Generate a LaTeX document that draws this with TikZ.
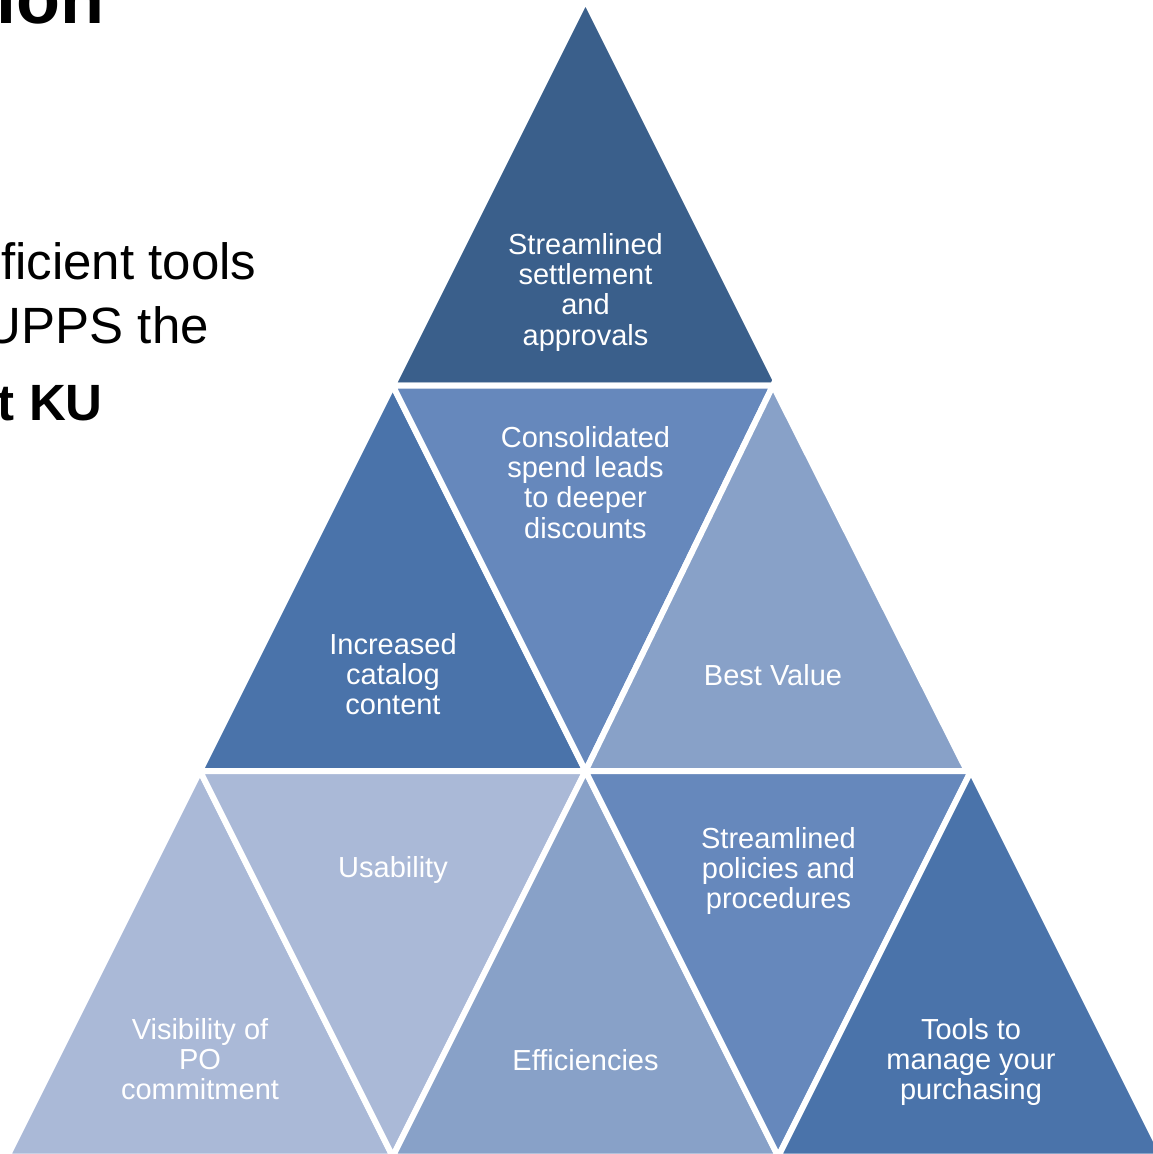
\documentclass[tikz,border=0pt]{standalone}
\usepackage{fontspec}
\setmainfont{Liberation Sans}
\definecolor{cA}{HTML}{3A5F8B}
\definecolor{cB}{HTML}{4A73AA}
\definecolor{cC}{HTML}{6688BC}
\definecolor{cD}{HTML}{88A1C8}
\definecolor{cE}{HTML}{AAB9D7}
\begin{document}
\begin{tikzpicture}[x=1pt,y=-1pt,
  tri/.style={draw=white,line width=6pt,line join=miter},
  lbl/.style={text=white,font=\fontsize{29}{30.3}\selectfont,align=center,anchor=north,inner sep=0pt},
  side/.style={anchor=base east,inner sep=0pt,text=black,font=\fontsize{51}{60}\selectfont}]
\useasboundingbox (0,0) rectangle (1153,1154);
\clip (0,0) rectangle (1153,1154);
% lattice points
\coordinate (A)  at (585.5,0);
\coordinate (B0) at (392.75,385.5);
\coordinate (B1) at (778.25,385.5);
\coordinate (B1s) at (773,385.5);
\coordinate (C0) at (200,771);
\coordinate (C1) at (585.5,771);
\coordinate (C2) at (971,771);
\coordinate (C2s) at (967,771);
\coordinate (D0) at (7.25,1156.5);
\coordinate (D1) at (392.75,1156.5);
\coordinate (D2) at (778.25,1156.5);
\coordinate (D3) at (1163.75,1156.5);
% row 1
\path[tri,fill=cA] (A) -- (B0) -- (B1) -- cycle;
% row 2
\path[tri,fill=cB] (B0) -- (C0) -- (C1) -- cycle;
\path[tri,fill=cC] (B0) -- (B1s) -- (C1) -- cycle;
\path[tri,fill=cD] (B1s) -- (C1) -- (C2s) -- cycle;
% row 3
\path[tri,fill=cE] (C0) -- (D0) -- (D1) -- cycle;
\path[tri,fill=cE] (C0) -- (C1) -- (D1) -- cycle;
\path[tri,fill=cD] (C1) -- (D1) -- (D2) -- cycle;
\path[tri,fill=cC] (C1) -- (C2) -- (D2) -- cycle;
\path[tri,fill=cB] (C2) -- (D2) -- (D3) -- cycle;
% labels
\node[lbl] (t1) at (585.5,233) {Streamlined\\settlement\\and\\approvals};
\node[lbl] (t3) at (585.5,426) {Consolidated\\spend leads\\to deeper\\discounts};
\node[lbl] (t2) at (393,633) {Increased\\catalog\\content};
\node[lbl] (t4) at (773,664) {Best Value};
\node[lbl] (t6) at (393,856) {Usability};
\node[lbl] (t8) at (778.5,827) {Streamlined\\policies and\\procedures};
\node[lbl] (t5) at (200,1018) {Visibility of\\PO\\commitment};
\node[lbl] (t7) at (585.5,1049) {Efficiencies};
\node[lbl] (t9) at (971,1018) {Tools to\\manage your\\purchasing};
% side text
\node[side,font=\fontsize{72}{80}\selectfont\bfseries] (s0) at (105,23) {ion};
\node[side] (s1) at (256.5,279) {ficient tools};
\node[side] (s2) at (209,343) {UPPS the};
\node[side,font=\fontsize{51}{60}\selectfont\bfseries] (s3) at (103,420) {t KU};
\end{tikzpicture}
\end{document}
